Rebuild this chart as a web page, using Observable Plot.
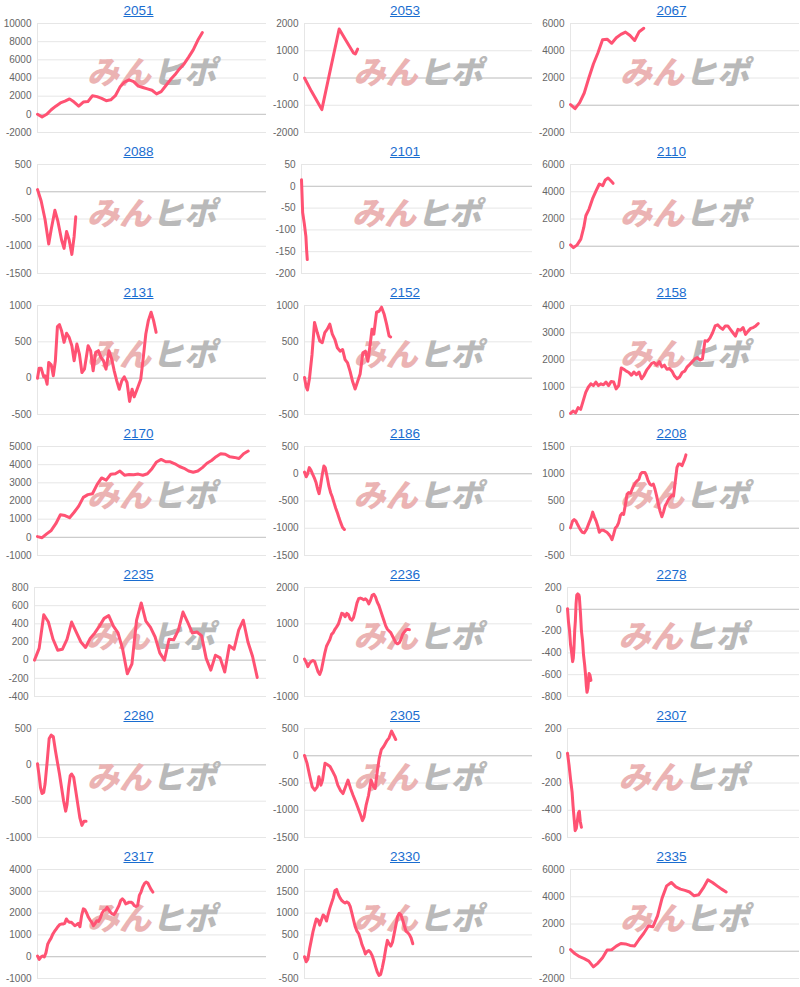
<!DOCTYPE html>
<html><head><meta charset="utf-8">
<script src="https://cdn.jsdelivr.net/npm/d3@7"></script>
<script src="https://cdn.jsdelivr.net/npm/@observablehq/plot@0.6"></script>
<style>
body{margin:0;background:#fff;font-family:"Liberation Sans",Arial,sans-serif;}
#grid{display:grid;grid-template-columns:267px 266px 267px;width:800px;}
.panel{height:141px;position:relative;overflow:visible;}
.title{height:18px;text-align:center;font-size:13.5px;line-height:13px;padding-top:4px;padding-left:10px;box-sizing:border-box;}
.title a{color:#1a6dd0;text-decoration:underline;}
.panel svg{display:block;}
</style></head><body>
<div id="grid"></div>
<script>
// ---- panel labels and y axes ----
const codes = [2051,2053,2067,2088,2101,2110,2131,2152,2158,2170,2186,2208,2235,2236,2278,2280,2305,2307,2317,2330,2335];
const yMin  = [-2000,-2000,-2000,-1500,-200,-2000,-500,-500,0,-1000,-1500,-500,-400,-1000,-800,-1000,-1500,-600,-1000,-500,-2000];
const yMax  = [10000,2000,6000,500,50,6000,1000,1000,4000,5000,500,1500,800,2000,200,500,500,200,4000,2000,6000];
const yStep = [2000,1000,2000,500,50,2000,500,500,1000,1000,500,500,200,1000,200,500,500,200,1000,500,2000];
const dayDomain = [0, 100];

// ---- series: evenly sampled values (with last day) or [day, value] pairs ----
const v2051 = [0,-300,0,500,900,1250,1450,1700,1350,900,1350,1400,2050,1950,1750,1500,1600,2050,3000,3550,3800,3600,3100,2950,2800,2650,2250,2500,3150,3800,4350,5000,5550,6300,7100,8150,9000];
const last2051 = 72;
const p2053 = [[0,0],[3,-480],[7.6,-1160],[11,170],[15.2,1800],[18,1400],[21.5,920],[22.3,880],[23.3,1060]];
const v2067 = [50,-250,200,900,2000,3030,3850,4800,4850,4550,4950,5200,5370,5120,4750,5400,5650];
const last2067 = 32;
const p2088 = [[0,40],[1.6,-170],[3.3,-510],[4.9,-960],[6,-690],[7.6,-340],[8.9,-540],[10.5,-880],[11.6,-1040],[12.7,-730],[13.8,-880],[15,-1150],[16,-820],[16.7,-460]];
const p2101 = [[0,15],[0.5,-60],[1.2,-85],[1.9,-115],[2.2,-145],[2.5,-168]];
const p2110 = [[0,100],[1.3,-100],[2.9,100],[4.5,520],[5.8,1380],[6.7,2240],[8.1,2730],[9.6,3470],[11.2,4080],[12.6,4570],[14.1,4450],[15.2,4870],[16.4,5010],[17.5,4820],[18.6,4620]];
const p2131 = [[0,0],[0.7,138],[1.6,138],[2.7,18],[3.3,32],[4.2,-83],[4.9,216],[6,184],[6.9,32],[7.8,240],[8.7,710],[9.6,737],[10.5,654],[11.6,493],[12.7,618],[13.8,562],[15,447],[16,240],[17.2,470],[18.3,332],[19.4,78],[20.5,124],[22.1,447],[23.2,378],[24.3,101],[25.4,355],[26.6,378],[27.7,286],[28.8,240],[29.9,124],[31.2,378],[32.4,263],[33.5,101],[34.6,-37],[35.7,-152],[36.8,-37],[37.9,18],[39.1,-60],[40.2,-320],[41.3,-152],[42.2,-258],[43.5,-152],[45.1,-14],[46.2,286],[47.3,608],[48.4,792],[49.6,908],[50.7,792],[51.8,631]];
const p2152 = [[0,10],[0.7,-116],[1.3,-163],[2.2,0],[3.3,326],[4.4,767],[5.6,628],[6.7,512],[7.8,488],[8.9,628],[10,674],[11.1,744],[12.2,605],[13.3,535],[14.4,419],[15.6,372],[16.7,395],[17.8,256],[18.9,209],[20,93],[21.1,-47],[22.2,-149],[23.3,-47],[24.4,56],[25.6,349],[26.7,372],[27.8,233],[28.9,488],[29.6,674],[30.4,605],[31.6,907],[32.7,921],[33.8,977],[34.9,884],[36,744],[37.1,581],[37.8,567]];
const v2158 = [40,125,60,250,190,500,810,1000,1125,1060,1190,1060,1125,1090,1190,1060,1210,1190,940,1060,1710,1660,1590,1540,1440,1560,1460,1560,1310,1440,1625,1750,1875,1910,1810,1940,1750,1810,1660,1690,1590,1410,1310,1375,1540,1590,1750,1840,1940,2040,2090,2000,2040,2710,2690,2810,3000,3250,3290,3190,3125,3250,3250,3125,3000,2875,3125,3090,3190,2940,3060,3160,3190,3250,3340];
const last2158 = 82;
const v2170 = [40,-20,190,380,750,1240,1200,1080,1380,1720,2200,2350,2400,2900,3270,3150,3470,3500,3650,3420,3460,3450,3480,3420,3500,3780,4150,4290,4160,4160,4050,3900,3800,3650,3580,3650,3840,4080,4230,4440,4600,4570,4430,4400,4340,4600,4750];
const last2170 = 92;
const p2186 = [[0,30],[0.75,-56],[1.3,-12],[2.1,112],[2.8,68],[3.6,-12],[4.3,-74],[5.1,-167],[5.8,-291],[6.4,-366],[7,-229],[7.8,-12],[8.5,143],[9.1,112],[10,-74],[10.7,-229],[11.5,-353],[12.2,-428],[13,-539],[13.7,-632],[14.5,-725],[15.2,-818],[16,-911],[16.7,-985],[17.5,-1023]];
const p2208 = [[0,6],[0.9,130],[1.6,160],[2.4,130],[3.1,68],[4.1,-12],[5.1,-74],[6,-86],[7.1,-12],[8.1,99],[9,191],[9.7,296],[10.4,210],[11.2,130],[11.9,37],[12.6,-74],[13.4,-37],[14.4,-37],[15.1,-56],[15.9,-74],[16.6,-105],[17.4,-148],[18.1,-210],[18.8,-117],[19.6,6],[20.3,37],[21,99],[21.8,235],[22.5,272],[23.2,253],[24,438],[24.7,623],[25.4,654],[26.2,642],[26.9,716],[27.6,778],[28.4,840],[29.1,870],[29.9,901],[30.6,994],[31.3,1025],[32.5,1025],[33.2,963],[33.9,870],[34.7,809],[35.4,790],[36.2,809],[36.9,716],[37.6,593],[38.4,438],[39.1,315],[39.9,210],[40.6,296],[41.3,407],[42.1,469],[42.8,531],[43.5,562],[44.3,605],[45,593],[45.7,840],[46.5,1117],[47.2,1179],[47.9,1179],[48.7,1148],[49.3,1210],[49.9,1272],[50.4,1346]];
const v2235 = [0,130,500,420,230,110,120,230,420,310,200,140,240,300,375,460,490,375,300,120,-150,-40,440,630,430,360,255,80,0,230,225,330,530,420,300,310,270,20,-110,55,25,-130,160,120,330,440,200,40,-190];
const last2235 = 96;
const v2236 = [28,-56,-178,-84,-37,-9,-37,-178,-318,-393,-271,-37,196,383,477,570,710,757,850,916,991,1131,1290,1271,1196,1290,1252,1131,1103,1178,1364,1570,1692,1710,1692,1664,1692,1645,1551,1645,1785,1813,1738,1598,1505,1364,1224,1084,944,850,804,757,664,570,477,449,477,570,710,776,832,850,841];
const last2236 = 46;
const p2278 = [[0,6],[0.44,-119],[0.88,-197],[1.3,-323],[1.8,-401],[2.2,-480],[2.5,-448],[2.8,-354],[3.1,-197],[3.4,-103],[3.7,53],[4,132],[4.4,141],[4.9,132],[5.1,116],[5.6,-41],[6,-197],[6.5,-292],[6.9,-417],[7.4,-511],[7.8,-605],[8.1,-699],[8.4,-762],[8.8,-724],[9.3,-589],[9.7,-605],[10.1,-652]];
const p2280 = [[0,14],[0.7,-149],[1.3,-312],[2,-395],[2.7,-381],[3.3,-265],[4.2,37],[5.1,363],[6,409],[6.9,386],[7.8,200],[8.7,37],[9.6,-126],[10.5,-312],[11.4,-498],[12.3,-637],[12.9,-544],[13.6,-312],[14.3,-149],[14.9,-126],[15.8,-172],[16.7,-358],[17.6,-544],[18.5,-730],[19.4,-833],[20.3,-777],[21.2,-777]];
const p2305 = [[0,6],[1.1,-136],[2.2,-353],[3.4,-570],[4.5,-632],[5.6,-570],[6.3,-384],[7.2,-539],[7.9,-446],[9,-136],[10.1,-167],[11.2,-198],[12.4,-291],[13.5,-384],[14.6,-539],[15.7,-632],[16.9,-694],[18,-570],[19.1,-446],[20.2,-601],[21.3,-725],[22.5,-849],[23.6,-973],[24.7,-1097],[25.4,-1190],[26.1,-1128],[27,-911],[28.1,-725],[29.2,-446],[30.3,-570],[31,-601],[31.9,-291],[32.8,-43],[33.7,112],[34.8,174],[36,267],[37.1,329],[38.2,453],[38.9,391],[40,298]];
const p2307 = [[0,18],[0.67,-70],[1.3,-170],[2,-270],[2.4,-370],[2.9,-470],[3.3,-550],[3.8,-532],[4.2,-482],[4.7,-420],[5.1,-408],[5.5,-482],[6,-525]];
const v2317 = [31,-124,-15,31,-15,185,571,726,850,1035,1158,1266,1375,1467,1498,1498,1529,1730,1622,1575,1575,1498,1421,1467,1529,1375,1884,2193,2147,1992,1807,1683,1575,1421,1529,1653,1622,1776,1992,2116,2147,2270,2147,2039,1961,1931,2039,2193,2348,2580,2656,2580,2425,2456,2502,2502,2456,2348,2301,2348,2811,2965,3197,3351,3429,3382,3228,3073,2965];
const last2317 = 50.4;
const v2330 = [0,-117,-55,179,374,569,725,865,841,725,841,958,919,818,974,1114,1231,1348,1520,1543,1426,1348,1289,1257,1231,1257,1231,1153,997,841,685,584,530,413,273,179,62,117,140,101,23,-94,-226,-351,-429,-405,-249,-55,179,374,296,242,335,530,725,919,997,958,841,709,584,553,506,428,296];
const last2330 = 47.5;
const v2335 = [120,-190,-400,-540,-720,-1150,-870,-480,100,110,380,570,540,430,390,880,1320,1850,1800,2600,3900,4800,5050,4720,4560,4470,4350,4070,4150,4650,5250,5050,4800,4560,4350];
const last2335 = 68;

const even = (vals, lastDay) => vals.map((v, i) => [i * lastDay / (vals.length - 1), v]);

const seriesList = [
  even(v2051, last2051), p2053, even(v2067, last2067),
  p2088, p2101, p2110,
  p2131, p2152, even(v2158, last2158),
  even(v2170, last2170), p2186, p2208,
  even(v2235, last2235), even(v2236, last2236), p2278,
  p2280, p2305, p2307,
  even(v2317, last2317), even(v2330, last2330), even(v2335, last2335)
];

const grid = document.getElementById("grid");
const colW = [267, 266, 267];

codes.forEach((code, k) => {
  const w = colW[k % 3];
  const ticks = d3.range(yMin[k], yMax[k] + yStep[k] / 2, yStep[k]);
  const maxDigits = d3.max(ticks, t => String(Math.abs(t)).length);
  const ml = maxDigits >= 4 ? 37 : 34;

  const panel = document.createElement("div");
  panel.className = "panel";
  const title = document.createElement("div");
  title.className = "title";
  const a = document.createElement("a");
  a.href = "#";
  a.textContent = String(code);
  title.appendChild(a);
  panel.appendChild(title);

  const chart = Plot.plot({
    width: w,
    height: 123,
    marginTop: 5,
    marginBottom: 9,
    marginLeft: ml,
    marginRight: 1,
    x: {domain: dayDomain, axis: null},
    y: {domain: [yMin[k], yMax[k]], ticks: ticks, tickSize: 0, tickPadding: 6, tickFormat: d => String(d), label: null},
    style: {fontSize: "10px", color: "#666", fontFamily: "'Liberation Sans', Arial, sans-serif", background: "transparent", overflow: "visible"},
    marks: [
      Plot.ruleY(ticks, {stroke: "#e6e6e6", strokeWidth: 1}),
      Plot.ruleY([0], {stroke: "#c6c6c6", strokeWidth: 1}),
      Plot.ruleX([dayDomain[0]], {stroke: "#e6e6e6", strokeWidth: 1}),
      Plot.text(["みん"], {frameAnchor: "middle", dx: -33, dy: -4, fill: "#ebb3b3", fontSize: 32, fontWeight: 900, fontStyle: "italic", fontFamily: "'Noto Sans CJK JP', sans-serif"}),
      Plot.text(["ヒポ"], {frameAnchor: "middle", dx: 32, dy: -4, fill: "#b9b9b9", fontSize: 32, fontWeight: 900, fontStyle: "italic", fontFamily: "'Noto Sans CJK JP', sans-serif"}),
      Plot.line(seriesList[k], {x: d => d[0], y: d => d[1], stroke: "#ff5273", strokeWidth: 3, strokeLinejoin: "round", strokeLinecap: "round"})
    ]
  });
  panel.appendChild(chart);
  grid.appendChild(panel);
});
</script>
</body></html>
